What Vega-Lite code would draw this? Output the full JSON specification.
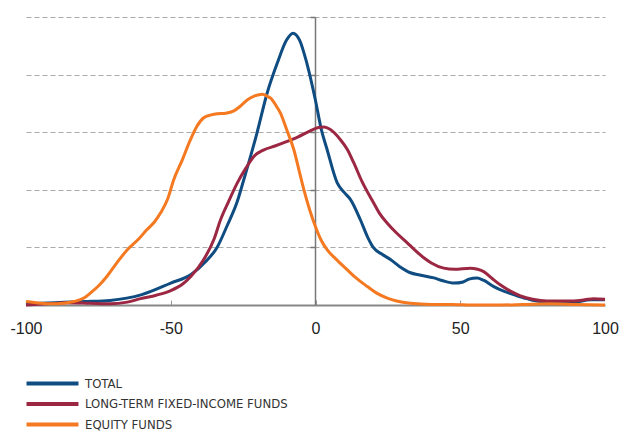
{
  "$schema": "https://vega.github.io/schema/vega-lite/v6.json",
  "width": 579,
  "height": 288,
  "autosize": {"type": "none"},
  "padding": {"left": 26, "top": 17, "right": 16, "bottom": 127},
  "background": "white",
  "config": {"view": {"stroke": null}},
  "datasets": {
    "d": [
      {"s":"TOTAL","x":-100,"y":0.02},{"s":"TOTAL","x":-90,"y":0.04},{"s":"TOTAL","x":-80,"y":0.06},{"s":"TOTAL","x":-71,"y":0.08},{"s":"TOTAL","x":-60,"y":0.18},{"s":"TOTAL","x":-50,"y":0.38},{"s":"TOTAL","x":-43,"y":0.53},{"s":"TOTAL","x":-38,"y":0.75},{"s":"TOTAL","x":-34,"y":1.0},{"s":"TOTAL","x":-30.5,"y":1.38},{"s":"TOTAL","x":-27,"y":1.8},{"s":"TOTAL","x":-24.8,"y":2.17},{"s":"TOTAL","x":-20.2,"y":2.99},{"s":"TOTAL","x":-16.7,"y":3.68},{"s":"TOTAL","x":-13.2,"y":4.2},{"s":"TOTAL","x":-10,"y":4.6},{"s":"TOTAL","x":-7.8,"y":4.72},{"s":"TOTAL","x":-5.5,"y":4.6},{"s":"TOTAL","x":-3,"y":4.2},{"s":"TOTAL","x":0,"y":3.55},{"s":"TOTAL","x":2,"y":3.05},{"s":"TOTAL","x":4,"y":2.7},{"s":"TOTAL","x":7.5,"y":2.12},{"s":"TOTAL","x":10,"y":1.95},{"s":"TOTAL","x":12.1,"y":1.83},{"s":"TOTAL","x":15.5,"y":1.48},{"s":"TOTAL","x":18,"y":1.18},{"s":"TOTAL","x":20.1,"y":0.99},{"s":"TOTAL","x":23,"y":0.88},{"s":"TOTAL","x":25.9,"y":0.79},{"s":"TOTAL","x":29,"y":0.67},{"s":"TOTAL","x":32.8,"y":0.56},{"s":"TOTAL","x":36,"y":0.52},{"s":"TOTAL","x":40.9,"y":0.47},{"s":"TOTAL","x":44,"y":0.42},{"s":"TOTAL","x":47.8,"y":0.38},{"s":"TOTAL","x":51,"y":0.4},{"s":"TOTAL","x":53,"y":0.45},{"s":"TOTAL","x":55.8,"y":0.47},{"s":"TOTAL","x":58,"y":0.43},{"s":"TOTAL","x":61.6,"y":0.32},{"s":"TOTAL","x":65,"y":0.24},{"s":"TOTAL","x":68.5,"y":0.18},{"s":"TOTAL","x":73,"y":0.11},{"s":"TOTAL","x":77.7,"y":0.06},{"s":"TOTAL","x":84,"y":0.05},{"s":"TOTAL","x":89.2,"y":0.05},{"s":"TOTAL","x":95,"y":0.09},{"s":"TOTAL","x":100,"y":0.09},
      {"s":"LONG-TERM FIXED-INCOME FUNDS","x":-100,"y":0.0},{"s":"LONG-TERM FIXED-INCOME FUNDS","x":-93,"y":0.02},{"s":"LONG-TERM FIXED-INCOME FUNDS","x":-86,"y":0.04},{"s":"LONG-TERM FIXED-INCOME FUNDS","x":-78,"y":0.03},{"s":"LONG-TERM FIXED-INCOME FUNDS","x":-71,"y":0.02},{"s":"LONG-TERM FIXED-INCOME FUNDS","x":-65,"y":0.05},{"s":"LONG-TERM FIXED-INCOME FUNDS","x":-60.4,"y":0.11},{"s":"LONG-TERM FIXED-INCOME FUNDS","x":-55,"y":0.17},{"s":"LONG-TERM FIXED-INCOME FUNDS","x":-50,"y":0.25},{"s":"LONG-TERM FIXED-INCOME FUNDS","x":-46,"y":0.36},{"s":"LONG-TERM FIXED-INCOME FUNDS","x":-43,"y":0.5},{"s":"LONG-TERM FIXED-INCOME FUNDS","x":-38.6,"y":0.79},{"s":"LONG-TERM FIXED-INCOME FUNDS","x":-35,"y":1.15},{"s":"LONG-TERM FIXED-INCOME FUNDS","x":-32.8,"y":1.48},{"s":"LONG-TERM FIXED-INCOME FUNDS","x":-30,"y":1.8},{"s":"LONG-TERM FIXED-INCOME FUNDS","x":-27,"y":2.12},{"s":"LONG-TERM FIXED-INCOME FUNDS","x":-24,"y":2.38},{"s":"LONG-TERM FIXED-INCOME FUNDS","x":-21.3,"y":2.58},{"s":"LONG-TERM FIXED-INCOME FUNDS","x":-18,"y":2.69},{"s":"LONG-TERM FIXED-INCOME FUNDS","x":-14,"y":2.76},{"s":"LONG-TERM FIXED-INCOME FUNDS","x":-9.8,"y":2.84},{"s":"LONG-TERM FIXED-INCOME FUNDS","x":-6,"y":2.92},{"s":"LONG-TERM FIXED-INCOME FUNDS","x":-2,"y":3.02},{"s":"LONG-TERM FIXED-INCOME FUNDS","x":1,"y":3.08},{"s":"LONG-TERM FIXED-INCOME FUNDS","x":3,"y":3.09},{"s":"LONG-TERM FIXED-INCOME FUNDS","x":5,"y":3.05},{"s":"LONG-TERM FIXED-INCOME FUNDS","x":8.6,"y":2.87},{"s":"LONG-TERM FIXED-INCOME FUNDS","x":11,"y":2.7},{"s":"LONG-TERM FIXED-INCOME FUNDS","x":13.2,"y":2.47},{"s":"LONG-TERM FIXED-INCOME FUNDS","x":16,"y":2.15},{"s":"LONG-TERM FIXED-INCOME FUNDS","x":20.1,"y":1.77},{"s":"LONG-TERM FIXED-INCOME FUNDS","x":22,"y":1.6},{"s":"LONG-TERM FIXED-INCOME FUNDS","x":24.8,"y":1.42},{"s":"LONG-TERM FIXED-INCOME FUNDS","x":28,"y":1.25},{"s":"LONG-TERM FIXED-INCOME FUNDS","x":31.7,"y":1.08},{"s":"LONG-TERM FIXED-INCOME FUNDS","x":34,"y":0.97},{"s":"LONG-TERM FIXED-INCOME FUNDS","x":37.4,"y":0.82},{"s":"LONG-TERM FIXED-INCOME FUNDS","x":40,"y":0.73},{"s":"LONG-TERM FIXED-INCOME FUNDS","x":44.3,"y":0.64},{"s":"LONG-TERM FIXED-INCOME FUNDS","x":48,"y":0.62},{"s":"LONG-TERM FIXED-INCOME FUNDS","x":53.5,"y":0.64},{"s":"LONG-TERM FIXED-INCOME FUNDS","x":56,"y":0.62},{"s":"LONG-TERM FIXED-INCOME FUNDS","x":58.1,"y":0.58},{"s":"LONG-TERM FIXED-INCOME FUNDS","x":61,"y":0.46},{"s":"LONG-TERM FIXED-INCOME FUNDS","x":63.8,"y":0.35},{"s":"LONG-TERM FIXED-INCOME FUNDS","x":67,"y":0.25},{"s":"LONG-TERM FIXED-INCOME FUNDS","x":70.8,"y":0.16},{"s":"LONG-TERM FIXED-INCOME FUNDS","x":75,"y":0.1},{"s":"LONG-TERM FIXED-INCOME FUNDS","x":80,"y":0.07},{"s":"LONG-TERM FIXED-INCOME FUNDS","x":85,"y":0.07},{"s":"LONG-TERM FIXED-INCOME FUNDS","x":89.2,"y":0.07},{"s":"LONG-TERM FIXED-INCOME FUNDS","x":93,"y":0.09},{"s":"LONG-TERM FIXED-INCOME FUNDS","x":96.1,"y":0.11},{"s":"LONG-TERM FIXED-INCOME FUNDS","x":100,"y":0.1},
      {"s":"EQUITY FUNDS","x":-100,"y":0.06},{"s":"EQUITY FUNDS","x":-95,"y":0.03},{"s":"EQUITY FUNDS","x":-91.5,"y":0.02},{"s":"EQUITY FUNDS","x":-87,"y":0.03},{"s":"EQUITY FUNDS","x":-83.5,"y":0.06},{"s":"EQUITY FUNDS","x":-80,"y":0.12},{"s":"EQUITY FUNDS","x":-77.7,"y":0.21},{"s":"EQUITY FUNDS","x":-75,"y":0.33},{"s":"EQUITY FUNDS","x":-72,"y":0.5},{"s":"EQUITY FUNDS","x":-68.5,"y":0.74},{"s":"EQUITY FUNDS","x":-65,"y":0.96},{"s":"EQUITY FUNDS","x":-61,"y":1.15},{"s":"EQUITY FUNDS","x":-58.2,"y":1.31},{"s":"EQUITY FUNDS","x":-55.5,"y":1.45},{"s":"EQUITY FUNDS","x":-53.5,"y":1.6},{"s":"EQUITY FUNDS","x":-51,"y":1.85},{"s":"EQUITY FUNDS","x":-49,"y":2.17},{"s":"EQUITY FUNDS","x":-46,"y":2.52},{"s":"EQUITY FUNDS","x":-43.2,"y":2.87},{"s":"EQUITY FUNDS","x":-41,"y":3.1},{"s":"EQUITY FUNDS","x":-38.6,"y":3.25},{"s":"EQUITY FUNDS","x":-36,"y":3.3},{"s":"EQUITY FUNDS","x":-34,"y":3.32},{"s":"EQUITY FUNDS","x":-31,"y":3.33},{"s":"EQUITY FUNDS","x":-28.2,"y":3.37},{"s":"EQUITY FUNDS","x":-26,"y":3.45},{"s":"EQUITY FUNDS","x":-23.6,"y":3.56},{"s":"EQUITY FUNDS","x":-21,"y":3.63},{"s":"EQUITY FUNDS","x":-18.4,"y":3.66},{"s":"EQUITY FUNDS","x":-16.5,"y":3.62},{"s":"EQUITY FUNDS","x":-15.5,"y":3.59},{"s":"EQUITY FUNDS","x":-13.5,"y":3.45},{"s":"EQUITY FUNDS","x":-12.1,"y":3.33},{"s":"EQUITY FUNDS","x":-10,"y":3.05},{"s":"EQUITY FUNDS","x":-7.5,"y":2.7},{"s":"EQUITY FUNDS","x":-5.5,"y":2.3},{"s":"EQUITY FUNDS","x":-4,"y":2.0},{"s":"EQUITY FUNDS","x":-2,"y":1.65},{"s":"EQUITY FUNDS","x":0,"y":1.36},{"s":"EQUITY FUNDS","x":2,"y":1.12},{"s":"EQUITY FUNDS","x":4,"y":0.96},{"s":"EQUITY FUNDS","x":7,"y":0.8},{"s":"EQUITY FUNDS","x":11,"y":0.61},{"s":"EQUITY FUNDS","x":14,"y":0.47},{"s":"EQUITY FUNDS","x":17.9,"y":0.32},{"s":"EQUITY FUNDS","x":21,"y":0.21},{"s":"EQUITY FUNDS","x":24.8,"y":0.12},{"s":"EQUITY FUNDS","x":28,"y":0.07},{"s":"EQUITY FUNDS","x":32.8,"y":0.03},{"s":"EQUITY FUNDS","x":40,"y":0.01},{"s":"EQUITY FUNDS","x":47,"y":0.01},{"s":"EQUITY FUNDS","x":55,"y":0.0},{"s":"EQUITY FUNDS","x":64,"y":0.0},{"s":"EQUITY FUNDS","x":72,"y":0.01},{"s":"EQUITY FUNDS","x":81,"y":0.02},{"s":"EQUITY FUNDS","x":90,"y":0.01},{"s":"EQUITY FUNDS","x":100,"y":0.0}
    ]
  },
  "data": {"name": "d"},
  "mark": {"type": "line", "interpolate": "monotone", "strokeWidth": 3, "clip": false},
  "encoding": {
    "x": {
      "field": "x", "type": "quantitative",
      "scale": {"domain": [-100, 100], "nice": false, "zero": false},
      "axis": {
        "title": null, "values": [-100, -50, 0, 50, 100], "grid": false,
        "domainColor": "#888888", "domainWidth": 2,
        "tickSize": -5, "tickColor": {"condition": {"test": "abs(datum.value) == 100", "value": "transparent"}, "value": "#999999"},
        "tickWidth": 1,
        "labelExpr": "toString(datum.value)",
        "labelFont": "Liberation Sans", "labelFontSize": 16, "labelColor": "#222222",
        "labelPadding": 20, "labelFlush": false, "labelOverlap": false
      }
    },
    "y": {
      "field": "y", "type": "quantitative",
      "scale": {"domain": [0, 5], "nice": false},
      "axis": {
        "title": null, "values": [1, 2, 3, 4, 5], "labels": false, "offset": -289,
        "domainColor": "#777777", "domainWidth": 1.5,
        "tickSize": 5, "tickColor": "#777777", "tickWidth": 1.5,
        "grid": true, "gridColor": "#aaaaaa", "gridDash": [5, 3], "gridWidth": 1.2
      }
    },
    "color": {
      "field": "s", "type": "nominal",
      "scale": {"domain": ["TOTAL", "LONG-TERM FIXED-INCOME FUNDS", "EQUITY FUNDS"], "range": ["#0f4c81", "#9b2743", "#f47920"]},
      "legend": {
        "title": null, "orient": "none", "legendX": 0, "legendY": 359, "padding": 0,
        "symbolType": "M-5,0H5", "symbolSize": 108, "symbolStrokeWidth": 4, "symbolOffset": 19,
        "labelOffset": 25, "labelFont": "DejaVu Sans Condensed, Roboto Condensed, Roboto", "labelFontSize": 13, "labelColor": "#333333",
        "rowPadding": 3.5, "labelLimit": 400
      }
    }
  }
}
